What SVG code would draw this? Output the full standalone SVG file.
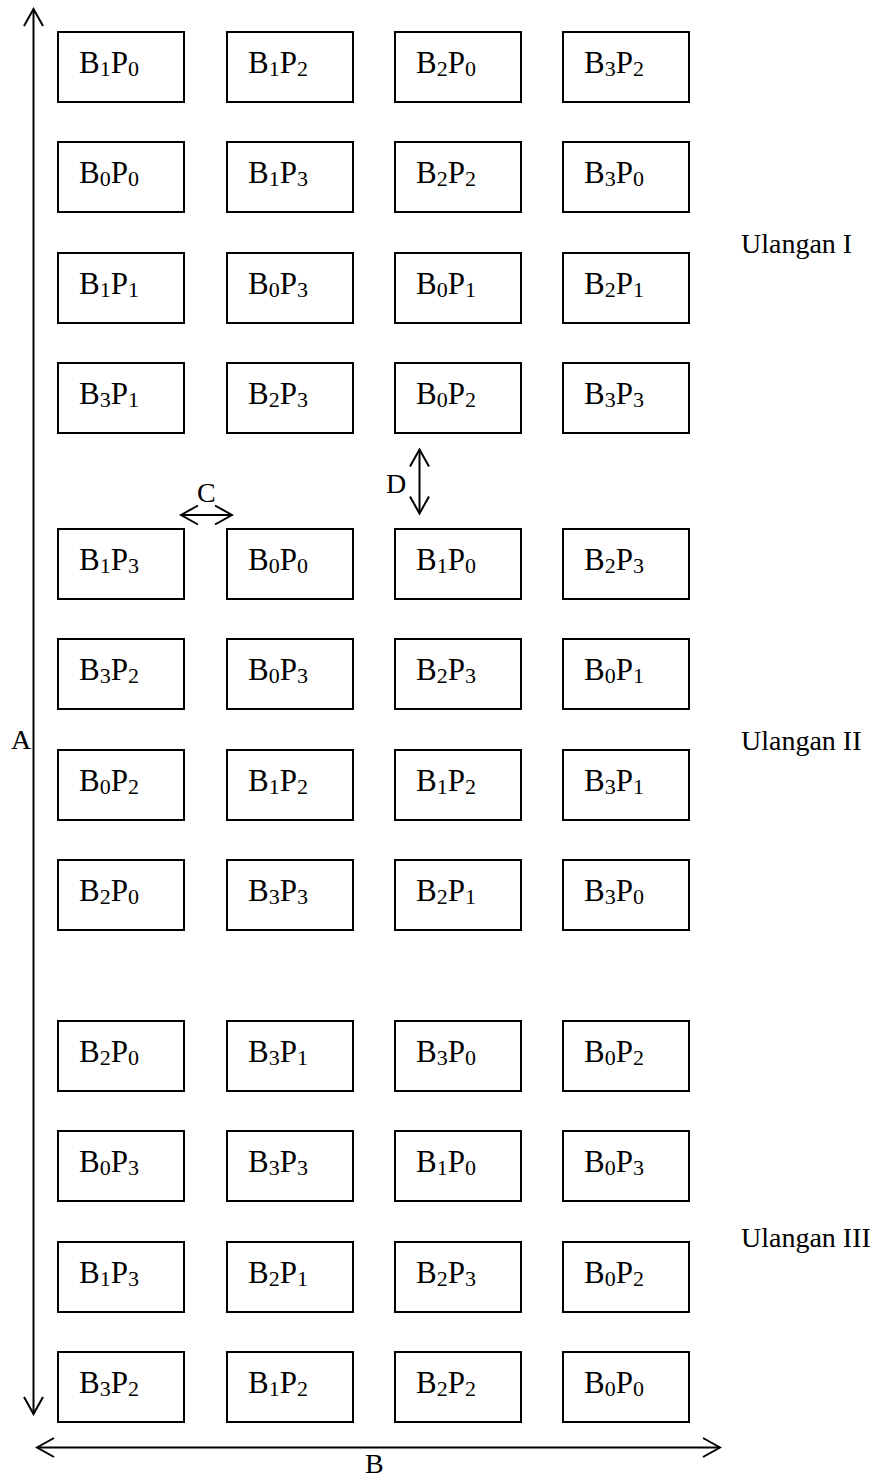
<svg xmlns="http://www.w3.org/2000/svg" width="881" height="1479" viewBox="0 0 881 1479">
<style>
.box rect{fill:#fff;stroke:#000;stroke-width:2}
.t{font-family:"Liberation Serif","Times New Roman",serif;font-size:31px;fill:#000}
.s{font-size:22px}
.lbl{font-family:"Liberation Serif","Times New Roman",serif;font-size:28px;fill:#000}
.con line{stroke:#000;stroke-width:2;fill:none}
</style>
<defs>
<marker id="ah" markerUnits="userSpaceOnUse" viewBox="-19 -11 21 22" markerWidth="21" markerHeight="22" refX="0" refY="0" orient="auto-start-reverse">
<path d="M-17,-9.5 L0,0 L-17,9.5" fill="none" stroke="#000" stroke-width="2"/>
</marker>
</defs>
<rect width="881" height="1479" fill="#fff"/>
<g id="n1" class="box"><rect x="58" y="32" width="126" height="70"/><text class="t" x="79" y="73">B<tspan class="s" dy="3">1</tspan><tspan dy="-3">P</tspan><tspan class="s" dy="3">0</tspan></text></g>
<g id="n2" class="box"><rect x="227" y="32" width="126" height="70"/><text class="t" x="248" y="73">B<tspan class="s" dy="3">1</tspan><tspan dy="-3">P</tspan><tspan class="s" dy="3">2</tspan></text></g>
<g id="n3" class="box"><rect x="395" y="32" width="126" height="70"/><text class="t" x="416" y="73">B<tspan class="s" dy="3">2</tspan><tspan dy="-3">P</tspan><tspan class="s" dy="3">0</tspan></text></g>
<g id="n4" class="box"><rect x="563" y="32" width="126" height="70"/><text class="t" x="584" y="73">B<tspan class="s" dy="3">3</tspan><tspan dy="-3">P</tspan><tspan class="s" dy="3">2</tspan></text></g>
<g id="n5" class="box"><rect x="58" y="142" width="126" height="70"/><text class="t" x="79" y="183">B<tspan class="s" dy="3">0</tspan><tspan dy="-3">P</tspan><tspan class="s" dy="3">0</tspan></text></g>
<g id="n6" class="box"><rect x="227" y="142" width="126" height="70"/><text class="t" x="248" y="183">B<tspan class="s" dy="3">1</tspan><tspan dy="-3">P</tspan><tspan class="s" dy="3">3</tspan></text></g>
<g id="n7" class="box"><rect x="395" y="142" width="126" height="70"/><text class="t" x="416" y="183">B<tspan class="s" dy="3">2</tspan><tspan dy="-3">P</tspan><tspan class="s" dy="3">2</tspan></text></g>
<g id="n8" class="box"><rect x="563" y="142" width="126" height="70"/><text class="t" x="584" y="183">B<tspan class="s" dy="3">3</tspan><tspan dy="-3">P</tspan><tspan class="s" dy="3">0</tspan></text></g>
<g id="n9" class="box"><rect x="58" y="253" width="126" height="70"/><text class="t" x="79" y="294">B<tspan class="s" dy="3">1</tspan><tspan dy="-3">P</tspan><tspan class="s" dy="3">1</tspan></text></g>
<g id="n10" class="box"><rect x="227" y="253" width="126" height="70"/><text class="t" x="248" y="294">B<tspan class="s" dy="3">0</tspan><tspan dy="-3">P</tspan><tspan class="s" dy="3">3</tspan></text></g>
<g id="n11" class="box"><rect x="395" y="253" width="126" height="70"/><text class="t" x="416" y="294">B<tspan class="s" dy="3">0</tspan><tspan dy="-3">P</tspan><tspan class="s" dy="3">1</tspan></text></g>
<g id="n12" class="box"><rect x="563" y="253" width="126" height="70"/><text class="t" x="584" y="294">B<tspan class="s" dy="3">2</tspan><tspan dy="-3">P</tspan><tspan class="s" dy="3">1</tspan></text></g>
<g id="n13" class="box"><rect x="58" y="363" width="126" height="70"/><text class="t" x="79" y="404">B<tspan class="s" dy="3">3</tspan><tspan dy="-3">P</tspan><tspan class="s" dy="3">1</tspan></text></g>
<g id="n14" class="box"><rect x="227" y="363" width="126" height="70"/><text class="t" x="248" y="404">B<tspan class="s" dy="3">2</tspan><tspan dy="-3">P</tspan><tspan class="s" dy="3">3</tspan></text></g>
<g id="n15" class="box"><rect x="395" y="363" width="126" height="70"/><text class="t" x="416" y="404">B<tspan class="s" dy="3">0</tspan><tspan dy="-3">P</tspan><tspan class="s" dy="3">2</tspan></text></g>
<g id="n16" class="box"><rect x="563" y="363" width="126" height="70"/><text class="t" x="584" y="404">B<tspan class="s" dy="3">3</tspan><tspan dy="-3">P</tspan><tspan class="s" dy="3">3</tspan></text></g>
<g id="n17" class="box"><rect x="58" y="529" width="126" height="70"/><text class="t" x="79" y="570">B<tspan class="s" dy="3">1</tspan><tspan dy="-3">P</tspan><tspan class="s" dy="3">3</tspan></text></g>
<g id="n18" class="box"><rect x="227" y="529" width="126" height="70"/><text class="t" x="248" y="570">B<tspan class="s" dy="3">0</tspan><tspan dy="-3">P</tspan><tspan class="s" dy="3">0</tspan></text></g>
<g id="n19" class="box"><rect x="395" y="529" width="126" height="70"/><text class="t" x="416" y="570">B<tspan class="s" dy="3">1</tspan><tspan dy="-3">P</tspan><tspan class="s" dy="3">0</tspan></text></g>
<g id="n20" class="box"><rect x="563" y="529" width="126" height="70"/><text class="t" x="584" y="570">B<tspan class="s" dy="3">2</tspan><tspan dy="-3">P</tspan><tspan class="s" dy="3">3</tspan></text></g>
<g id="n21" class="box"><rect x="58" y="639" width="126" height="70"/><text class="t" x="79" y="680">B<tspan class="s" dy="3">3</tspan><tspan dy="-3">P</tspan><tspan class="s" dy="3">2</tspan></text></g>
<g id="n22" class="box"><rect x="227" y="639" width="126" height="70"/><text class="t" x="248" y="680">B<tspan class="s" dy="3">0</tspan><tspan dy="-3">P</tspan><tspan class="s" dy="3">3</tspan></text></g>
<g id="n23" class="box"><rect x="395" y="639" width="126" height="70"/><text class="t" x="416" y="680">B<tspan class="s" dy="3">2</tspan><tspan dy="-3">P</tspan><tspan class="s" dy="3">3</tspan></text></g>
<g id="n24" class="box"><rect x="563" y="639" width="126" height="70"/><text class="t" x="584" y="680">B<tspan class="s" dy="3">0</tspan><tspan dy="-3">P</tspan><tspan class="s" dy="3">1</tspan></text></g>
<g id="n25" class="box"><rect x="58" y="750" width="126" height="70"/><text class="t" x="79" y="791">B<tspan class="s" dy="3">0</tspan><tspan dy="-3">P</tspan><tspan class="s" dy="3">2</tspan></text></g>
<g id="n26" class="box"><rect x="227" y="750" width="126" height="70"/><text class="t" x="248" y="791">B<tspan class="s" dy="3">1</tspan><tspan dy="-3">P</tspan><tspan class="s" dy="3">2</tspan></text></g>
<g id="n27" class="box"><rect x="395" y="750" width="126" height="70"/><text class="t" x="416" y="791">B<tspan class="s" dy="3">1</tspan><tspan dy="-3">P</tspan><tspan class="s" dy="3">2</tspan></text></g>
<g id="n28" class="box"><rect x="563" y="750" width="126" height="70"/><text class="t" x="584" y="791">B<tspan class="s" dy="3">3</tspan><tspan dy="-3">P</tspan><tspan class="s" dy="3">1</tspan></text></g>
<g id="n29" class="box"><rect x="58" y="860" width="126" height="70"/><text class="t" x="79" y="901">B<tspan class="s" dy="3">2</tspan><tspan dy="-3">P</tspan><tspan class="s" dy="3">0</tspan></text></g>
<g id="n30" class="box"><rect x="227" y="860" width="126" height="70"/><text class="t" x="248" y="901">B<tspan class="s" dy="3">3</tspan><tspan dy="-3">P</tspan><tspan class="s" dy="3">3</tspan></text></g>
<g id="n31" class="box"><rect x="395" y="860" width="126" height="70"/><text class="t" x="416" y="901">B<tspan class="s" dy="3">2</tspan><tspan dy="-3">P</tspan><tspan class="s" dy="3">1</tspan></text></g>
<g id="n32" class="box"><rect x="563" y="860" width="126" height="70"/><text class="t" x="584" y="901">B<tspan class="s" dy="3">3</tspan><tspan dy="-3">P</tspan><tspan class="s" dy="3">0</tspan></text></g>
<g id="n33" class="box"><rect x="58" y="1021" width="126" height="70"/><text class="t" x="79" y="1062">B<tspan class="s" dy="3">2</tspan><tspan dy="-3">P</tspan><tspan class="s" dy="3">0</tspan></text></g>
<g id="n34" class="box"><rect x="227" y="1021" width="126" height="70"/><text class="t" x="248" y="1062">B<tspan class="s" dy="3">3</tspan><tspan dy="-3">P</tspan><tspan class="s" dy="3">1</tspan></text></g>
<g id="n35" class="box"><rect x="395" y="1021" width="126" height="70"/><text class="t" x="416" y="1062">B<tspan class="s" dy="3">3</tspan><tspan dy="-3">P</tspan><tspan class="s" dy="3">0</tspan></text></g>
<g id="n36" class="box"><rect x="563" y="1021" width="126" height="70"/><text class="t" x="584" y="1062">B<tspan class="s" dy="3">0</tspan><tspan dy="-3">P</tspan><tspan class="s" dy="3">2</tspan></text></g>
<g id="n37" class="box"><rect x="58" y="1131" width="126" height="70"/><text class="t" x="79" y="1172">B<tspan class="s" dy="3">0</tspan><tspan dy="-3">P</tspan><tspan class="s" dy="3">3</tspan></text></g>
<g id="n38" class="box"><rect x="227" y="1131" width="126" height="70"/><text class="t" x="248" y="1172">B<tspan class="s" dy="3">3</tspan><tspan dy="-3">P</tspan><tspan class="s" dy="3">3</tspan></text></g>
<g id="n39" class="box"><rect x="395" y="1131" width="126" height="70"/><text class="t" x="416" y="1172">B<tspan class="s" dy="3">1</tspan><tspan dy="-3">P</tspan><tspan class="s" dy="3">0</tspan></text></g>
<g id="n40" class="box"><rect x="563" y="1131" width="126" height="70"/><text class="t" x="584" y="1172">B<tspan class="s" dy="3">0</tspan><tspan dy="-3">P</tspan><tspan class="s" dy="3">3</tspan></text></g>
<g id="n41" class="box"><rect x="58" y="1242" width="126" height="70"/><text class="t" x="79" y="1283">B<tspan class="s" dy="3">1</tspan><tspan dy="-3">P</tspan><tspan class="s" dy="3">3</tspan></text></g>
<g id="n42" class="box"><rect x="227" y="1242" width="126" height="70"/><text class="t" x="248" y="1283">B<tspan class="s" dy="3">2</tspan><tspan dy="-3">P</tspan><tspan class="s" dy="3">1</tspan></text></g>
<g id="n43" class="box"><rect x="395" y="1242" width="126" height="70"/><text class="t" x="416" y="1283">B<tspan class="s" dy="3">2</tspan><tspan dy="-3">P</tspan><tspan class="s" dy="3">3</tspan></text></g>
<g id="n44" class="box"><rect x="563" y="1242" width="126" height="70"/><text class="t" x="584" y="1283">B<tspan class="s" dy="3">0</tspan><tspan dy="-3">P</tspan><tspan class="s" dy="3">2</tspan></text></g>
<g id="n45" class="box"><rect x="58" y="1352" width="126" height="70"/><text class="t" x="79" y="1393">B<tspan class="s" dy="3">3</tspan><tspan dy="-3">P</tspan><tspan class="s" dy="3">2</tspan></text></g>
<g id="n46" class="box"><rect x="227" y="1352" width="126" height="70"/><text class="t" x="248" y="1393">B<tspan class="s" dy="3">1</tspan><tspan dy="-3">P</tspan><tspan class="s" dy="3">2</tspan></text></g>
<g id="n47" class="box"><rect x="395" y="1352" width="126" height="70"/><text class="t" x="416" y="1393">B<tspan class="s" dy="3">2</tspan><tspan dy="-3">P</tspan><tspan class="s" dy="3">2</tspan></text></g>
<g id="n48" class="box"><rect x="563" y="1352" width="126" height="70"/><text class="t" x="584" y="1393">B<tspan class="s" dy="3">0</tspan><tspan dy="-3">P</tspan><tspan class="s" dy="3">0</tspan></text></g>
<g id="connectors" class="con">
<line x1="33.5" y1="1414" x2="33.5" y2="9" marker-start="url(#ah)" marker-end="url(#ah)"/>
<line x1="37" y1="1447.5" x2="720" y2="1447.5" marker-start="url(#ah)" marker-end="url(#ah)"/>
<line x1="181" y1="515" x2="232" y2="515" marker-start="url(#ah)" marker-end="url(#ah)"/>
<line x1="419.5" y1="449.5" x2="419.5" y2="513.5" marker-start="url(#ah)" marker-end="url(#ah)"/>
</g>
<g id="labels">
<text class="lbl" x="11" y="749">A</text>
<text class="lbl" x="365" y="1473" font-size="26">B</text>
<text class="lbl" x="197" y="502">C</text>
<text class="lbl" x="386" y="493">D</text>
<text class="lbl" x="741" y="253">Ulangan I</text>
<text class="lbl" x="741" y="750">Ulangan II</text>
<text class="lbl" x="741" y="1247">Ulangan III</text>
</g>
</svg>
